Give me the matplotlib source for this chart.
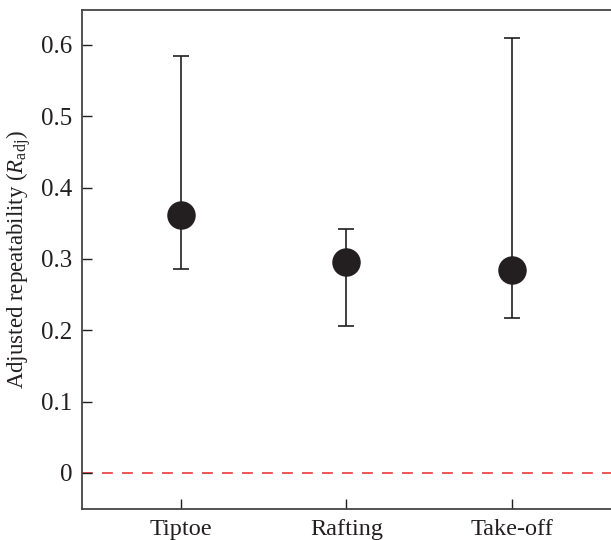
import matplotlib
matplotlib.use("Agg")
import matplotlib.pyplot as plt

categories = ["Tiptoe", "Rafting", "Take-off"]
r_adj = [0.361, 0.296, 0.285]
ci_low = [0.286, 0.206, 0.217]
ci_high = [0.584, 0.342, 0.610]

plt.rcParams['font.family'] = ['Liberation Serif', 'DejaVu Serif']
plt.rcParams['mathtext.fontset'] = 'custom'
plt.rcParams['mathtext.rm'] = 'Liberation Serif'
plt.rcParams['mathtext.it'] = 'Liberation Serif:italic'

fig = plt.figure(figsize=(6.11, 5.40), dpi=100)
ax = fig.add_axes([82/611, 31/540, 1 - 82/611 + 0.002, (509-10)/540])

x = list(range(1, len(categories) + 1))
yerr = [[r - l for r, l in zip(r_adj, ci_low)], [h - r for r, h in zip(r_adj, ci_high)]]
ax.errorbar(x, r_adj, yerr=yerr, fmt='o', color='#231f20', ecolor='#231f20',
            markersize=19.5, elinewidth=1.2, capsize=6, capthick=1.2, zorder=3)
ax.axhline(0, color='#ee3a3a', linestyle=(0, (6.5, 5.5)), linewidth=1.2, zorder=1)

ax.set_xlim(0.405, 3.605)
ax.set_ylim(-0.0505, 0.649)
ax.set_xticks(x)
ax.set_xticklabels(categories, fontsize=17.5)
ax.set_yticks([0, 0.1, 0.2, 0.3, 0.4, 0.5, 0.6])
ax.set_yticklabels(['0', '0.1', '0.2', '0.3', '0.4', '0.5', '0.6'], fontsize=18)
ax.tick_params(direction='in', length=7, width=1, colors='#231f20')
ax.tick_params(axis='x', pad=7)
ax.tick_params(axis='y', pad=7)
for s in ax.spines.values():
    s.set_color('#444444')
    s.set_linewidth(1.3)
ax.set_ylabel(r'Adjusted repeatability ($R_{\mathrm{adj}}$)', fontsize=16.5, color='#231f20', labelpad=6)

fig.savefig('out.png', dpi=100)
